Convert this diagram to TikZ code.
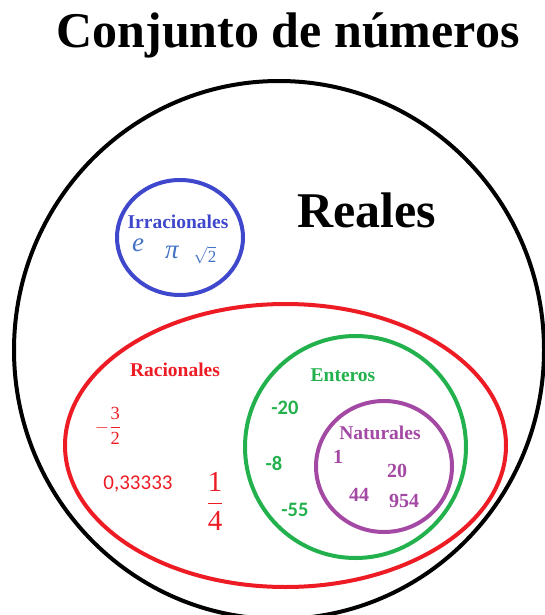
\RequirePackage{fix-cm}
\documentclass[tikz,border=0pt]{standalone}
\usepackage{amsmath}
\usepackage{fontspec}
\setmainfont{Liberation Serif}
\newfontfamily\calibri{Carlito}
\usepackage{xcolor}
\usepackage{tikz}
\definecolor{azul}{HTML}{3F48CC}
\definecolor{azulmat}{HTML}{4472C4}
\definecolor{rojo}{HTML}{ED1C24}
\definecolor{verde}{HTML}{22B14C}
\definecolor{morado}{HTML}{A349A4}

\begin{document}
\begin{tikzpicture}[x=1pt,y=-1pt,anchor=base,inner sep=0pt,
  conjunto/.style={line width=4pt},
  titulo/.style={font=\fontsize{50}{60}\selectfont\bfseries},
  etiqueta/.style={font=\fontsize{19.5}{23}\selectfont\bfseries},
  simbolo/.style={font=\fontsize{27}{30}\selectfont\itshape, text=azulmat},
  entero/.style={font=\calibri\fontsize{20.5}{24}\selectfont\bfseries, text=verde},
  natural/.style={font=\fontsize{20}{24}\selectfont\bfseries, text=morado}]
   \useasboundingbox (0,0) rectangle (545,615);
   \clip (0,0) rectangle (545,615);
   \node[titulo] (titulo) at (288,48) {Conjunto de números};
   \draw[conjunto, black] (279,350) ellipse [x radius=265pt, y radius=269pt];
   \node[titulo] (reales) at (367,227) {Reales};
   \draw[conjunto, azul] (180,237.5) ellipse [x radius=63pt, y radius=57.5pt];
   \node[etiqueta, text=azul] (irrac) at (178,228) {Irracionales};
   \node[simbolo] (e) at (138,251) {e};
   \node[simbolo] (pi) at (172,258) {π};
   \node[azulmat, font=\fontsize{17}{20}\selectfont] (raiz) at (205,262) {$\sqrt{\text{2}}$};
   \draw[conjunto, rojo] (285.5,445.5) ellipse [x radius=220.5pt, y radius=141.5pt];
   \node[etiqueta, text=rojo] (racio) at (175,376) {Racionales};
   \node[rojo, font=\fontsize{18.5}{22}\selectfont] (tres) at (108,432) {$-\dfrac{\text{3}}{\text{2}}$};
   \node[rojo, font=\calibri\fontsize{21}{25}\selectfont] (periodo) at (138,489) {0,33333};
   \node[rojo, font=\fontsize{29}{34}\selectfont] (cuarto) at (215,511) {$\dfrac{\text{1}}{\text{4}}$};
   \draw[conjunto, verde] (355.5,447) ellipse [x radius=110.5pt, y radius=111pt];
   \node[etiqueta, text=verde] (enteros) at (343,381) {Enteros};
   \node[entero] (m20) at (285,414) {-20};
   \node[entero] (m8) at (274,470) {-8};
   \node[entero] (m55) at (295,516) {-55};
   \draw[conjunto, morado] (384,466.5) ellipse [x radius=68pt, y radius=65.5pt];
   \node[etiqueta, text=morado] (natur) at (380,439) {Naturales};
   \node[natural] (n1) at (338,463) {1};
   \node[natural] (n20) at (397,477) {20};
   \node[natural] (n44) at (359,501) {44};
   \node[natural] (n954) at (404,507) {954};
\end{tikzpicture}
\end{document}
